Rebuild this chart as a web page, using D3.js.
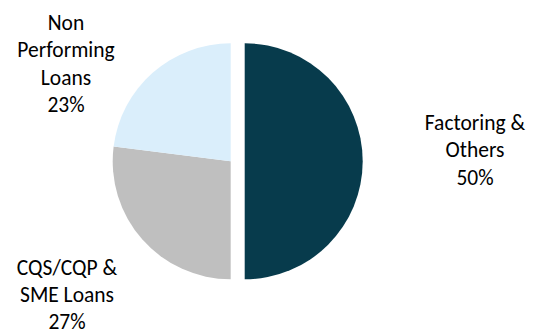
<!DOCTYPE html>
<html>
<head>
<meta charset="utf-8">
<script src="https://cdn.jsdelivr.net/npm/d3@7"></script>
<style>
  html, body { margin: 0; padding: 0; background: #ffffff; }
  svg { display: block; }
</style>
</head>
<body>
<svg id="chart" width="534" height="334"></svg>
<script>
const categories = ["Factoring & Others", "CQS/CQP & SME Loans", "Non Performing Loans"];
const values = [50, 27, 23];
const labelLines = [["Factoring &", "Others", "50%"], ["CQS/CQP &", "SME Loans", "27%"], ["Non", "Performing", "Loans", "23%"]];
const colors = ["#073B4C", "#BFBFBF", "#DAEEFB"];
const explode = [14, 0, 0];

const svg = d3.select("#chart");
const cx = 230.7, cy = 161.3, r = 118;

const pie = d3.pie().sort(null).value(d => d)(values);
const arc = d3.arc().innerRadius(0).outerRadius(r);

const g = svg.append("g").attr("transform", `translate(${cx},${cy})`);
g.selectAll("path").data(pie).join("path")
  .attr("d", arc)
  .attr("fill", (d, i) => colors[i])
  .attr("transform", (d, i) => {
    const a = (d.startAngle + d.endAngle) / 2;
    return `translate(${Math.sin(a) * explode[i]},${-Math.cos(a) * explode[i]})`;
  });

// label anchors (center x, first baseline y), line spacing
const labelPos = [[475, 129.5], [67, 274.5], [66, 29.5]];
const lineH = [27.5, 27, 27.5];
const lg = svg.append("g")
  .attr("font-family", "Carlito, Lato, 'Open Sans', sans-serif")
  .attr("font-size", 21.5)
  .attr("fill", "#000000")
  .attr("text-anchor", "middle");
labelLines.forEach((lines, i) => {
  const t = lg.append("text").attr("x", labelPos[i][0]).attr("y", labelPos[i][1]);
  lines.forEach((s, k) => {
    t.append("tspan").attr("x", labelPos[i][0]).attr("y", labelPos[i][1] + k * lineH[i]).text(s);
  });
});
</script>
</body>
</html>
